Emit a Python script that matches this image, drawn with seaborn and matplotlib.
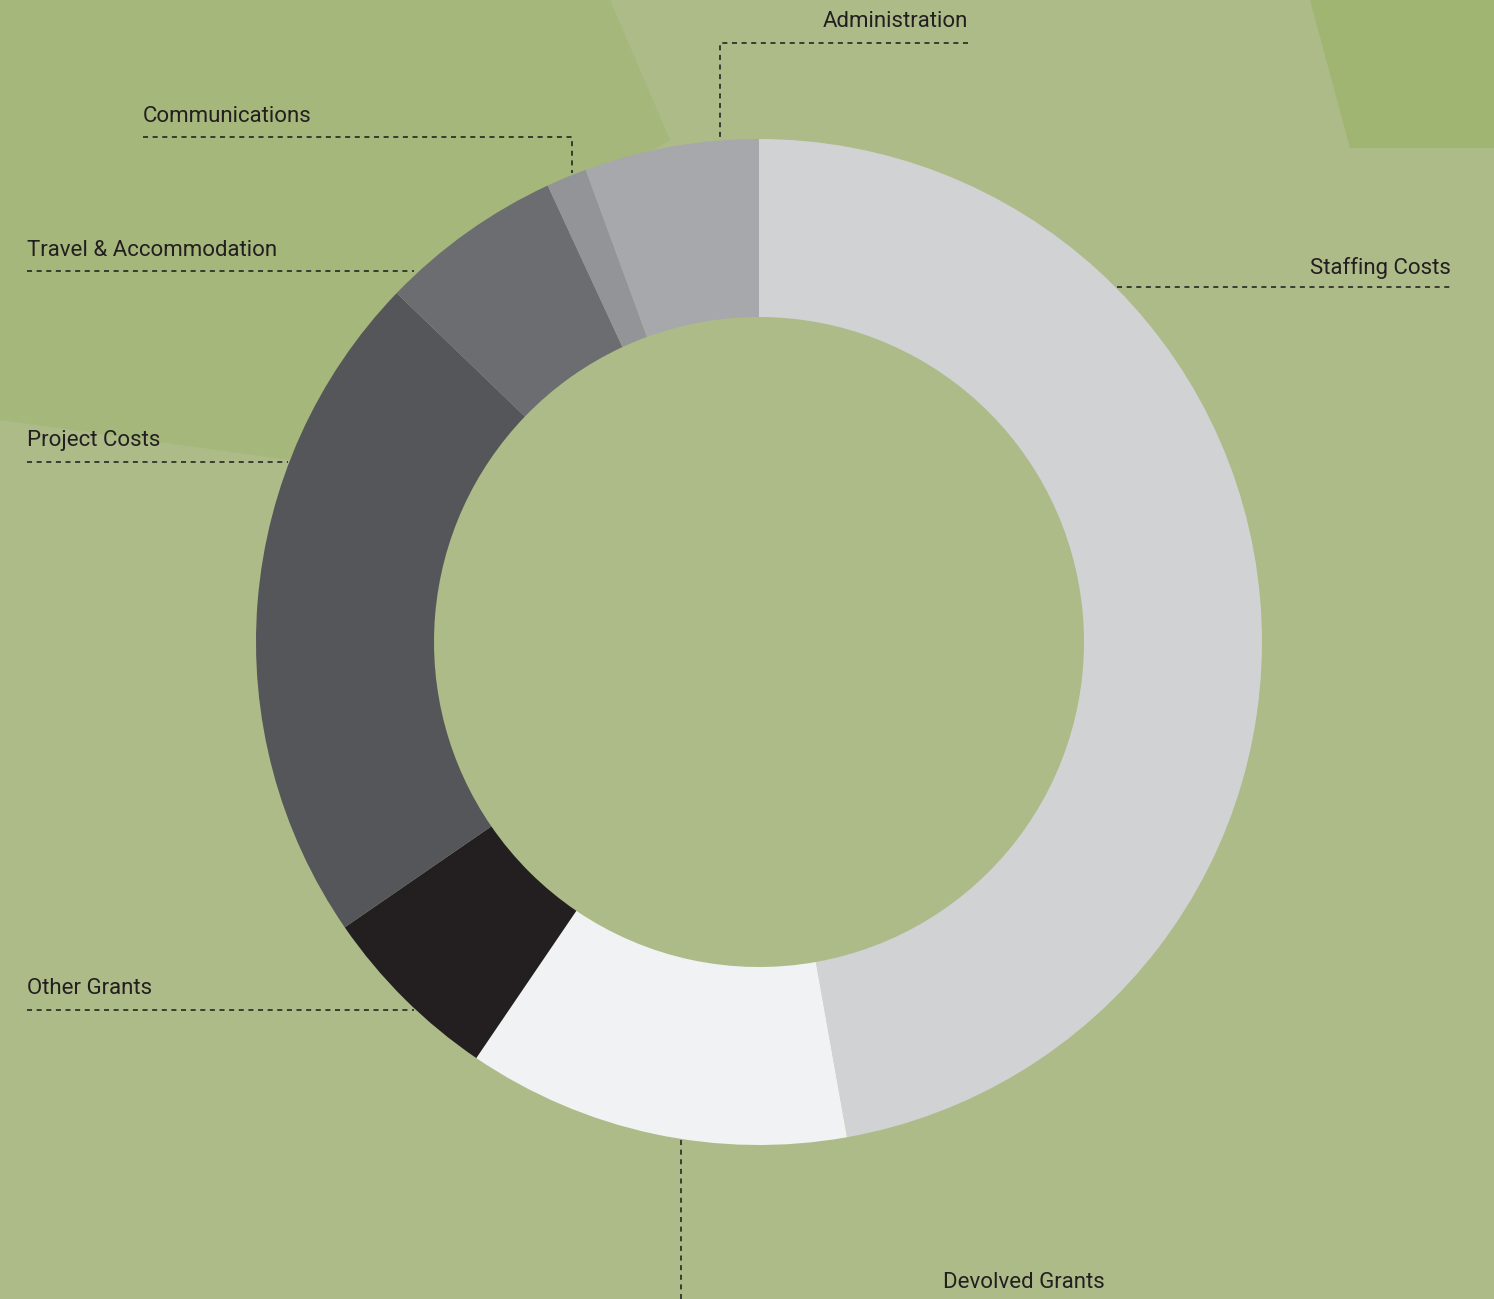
import matplotlib
matplotlib.use("Agg")
import matplotlib.pyplot as plt
import seaborn as sns

categories = ["Staffing Costs", "Devolved Grants", "Other Grants", "Project Costs",
              "Travel & Accommodation", "Communications", "Administration"]
shares = [47.2, 12.3, 5.9, 21.8, 5.9, 1.3, 5.6]
colors = ["#d1d2d4", "#f1f2f3", "#231f20", "#555659", "#6c6d71", "#929497", "#a6a8ab"]

sns.set_style("white")
plt.rcParams['font.family'] = ['Roboto', 'DejaVu Sans']

W, H = 1494, 1299
bg = "#acbb88"
fig = plt.figure(figsize=(W / 100, H / 100), dpi=100, facecolor=bg)
ax = fig.add_axes([0, 0, 1, 1])
ax.set_facecolor(bg)

def px(y):
    return H - y

# soft greener texture patches in the background
ax.fill([0, 610, 670, 400, 290, 0], [px(0), px(0), px(140), px(300), px(460), px(420)],
        color="#98b262", alpha=0.35, lw=0)
ax.fill([1310, W, W, 1350], [px(0), px(0), px(148), px(148)], color="#9ab265", alpha=0.6, lw=0)

cx, cy, R, r = 759, px(642), 503, 325
ax.pie(shares, colors=colors, startangle=90, counterclock=False,
       center=(cx, cy), radius=R, frame=True,
       wedgeprops=dict(width=R - r, linewidth=0))
ax.set_xlim(0, W)
ax.set_ylim(0, H)
ax.set_aspect('equal')
ax.axis('off')

txt = dict(fontsize=16, color="#231f20")
dash = dict(color="#1a1a1a", lw=1.1, linestyle=(0, (3.3, 3)))

# leader lines and labels (pixel layout)
ax.plot([968, 720, 720], [px(43), px(43), px(139)], **dash)
ax.text(823, px(27), "Administration", ha="left", va="baseline", **txt)

ax.plot([143, 572, 572], [px(137), px(137), px(173)], **dash)
ax.text(143, px(122), "Communications", ha="left", va="baseline", **txt)

ax.plot([27, 414], [px(271), px(271)], **dash)
ax.text(27, px(256), "Travel & Accommodation", ha="left", va="baseline", **txt)

ax.plot([27, 288], [px(462), px(462)], **dash)
ax.text(27, px(446), "Project Costs", ha="left", va="baseline", **txt)

ax.plot([27, 414], [px(1010), px(1010)], **dash)
ax.text(27, px(994), "Other Grants", ha="left", va="baseline", **txt)

ax.plot([1117, 1451], [px(287), px(287)], **dash)
ax.text(1451, px(274), "Staffing Costs", ha="right", va="baseline", **txt)

ax.plot([681, 681], [px(1140), px(1299)], **dash)
ax.text(943, px(1288), "Devolved Grants", ha="left", va="baseline", **txt)

fig.savefig("out.png", dpi=100, facecolor=bg)
